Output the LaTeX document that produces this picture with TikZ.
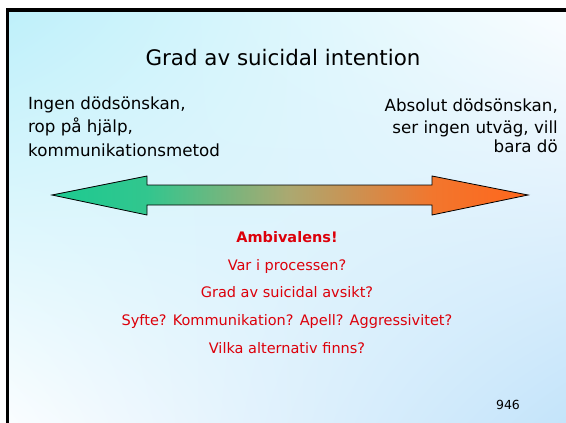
\documentclass[tikz,border=0pt]{standalone}
\usepackage{fontspec}
\usetikzlibrary{shadings}
\setmainfont{DejaVu Sans}
\definecolor{bgcyan}{RGB}{190,240,250}
\definecolor{bgblue}{RGB}{196,228,250}
\definecolor{bgwhite}{RGB}{250,253,255}
\definecolor{arrgreen}{RGB}{28,202,145}
\definecolor{arrgreenb}{RGB}{50,198,142}
\definecolor{arrmid}{RGB}{172,168,112}
\definecolor{arrorangeb}{RGB}{242,118,45}
\definecolor{arrorange}{RGB}{255,102,28}
\definecolor{redtext}{RGB}{220,0,10}
\pgfdeclarehorizontalshading{arrowshade}{100bp}{color(0bp)=(arrgreen); color(25bp)=(arrgreen); color(35bp)=(arrgreenb); color(50bp)=(arrmid); color(65bp)=(arrorangeb); color(75bp)=(arrorange); color(100bp)=(arrorange)}
\tikzset{
  blacktext/.style={inner sep=0pt, text=black, font=\fontsize{16.7}{20}\selectfont},
  redline/.style={inner sep=0pt, text=redtext, font=\fontsize{14.5}{17}\selectfont, anchor=base},
}
\begin{document}
\begin{tikzpicture}[x=1pt,y=-1pt]
\useasboundingbox (0,0) rectangle (566,423);
\fill[white] (0,0) rectangle (566,423);
\shade[upper left=bgcyan, upper right=bgwhite, lower left=bgwhite, lower right=bgblue] (7.5,10) rectangle (566,423);
\draw[line width=3.5pt] (7.5,423) -- (7.5,10) -- (566,10);
% title
\node[inner sep=0pt, anchor=base, font=\fontsize{21.4}{25}\selectfont] (title) at (283,65) {Grad av suicidal intention};
% left text
\node[blacktext, anchor=base west] (l1) at (28,109) {Ingen dödsönskan,};
\node[blacktext, anchor=base west] (l2) at (28,132) {rop på hjälp,};
\node[blacktext, anchor=base west] (l3) at (28,156) {kommunikationsmetod};
% right text
\node[blacktext, anchor=base east] (r1) at (558,111) {Absolut dödsönskan,};
\node[blacktext, anchor=base east] (r2) at (558,133) {ser ingen utväg, vill};
\node[blacktext, anchor=base east] (r3) at (558,152) {bara dö};
% arrow
\shade[shading=arrowshade, draw=black, line width=0.8pt]
  (52,195) -- (147,176) -- (147,185) -- (432,185) -- (432,176) -- (528,195)
  -- (432,215) -- (432,205) -- (147,205) -- (147,215) -- cycle;
% red lines
\node[redline, font=\fontsize{14.5}{17}\selectfont\bfseries] (amb) at (287,242) {Ambivalens!};
\node[redline] (var) at (287,270) {Var i processen?};
\node[redline] (grad) at (287,297) {Grad av suicidal avsikt?};
\node[redline] (syfte) at (287,325) {Syfte? Kommunikation? Apell? Aggressivitet?};
\node[redline] (vilka) at (287,353) {Vilka alternativ finns?};
% page number
\node[inner sep=0pt, anchor=base, font=\fontsize{12.5}{15}\selectfont] (num) at (508,409) {946};
\end{tikzpicture}
\end{document}
